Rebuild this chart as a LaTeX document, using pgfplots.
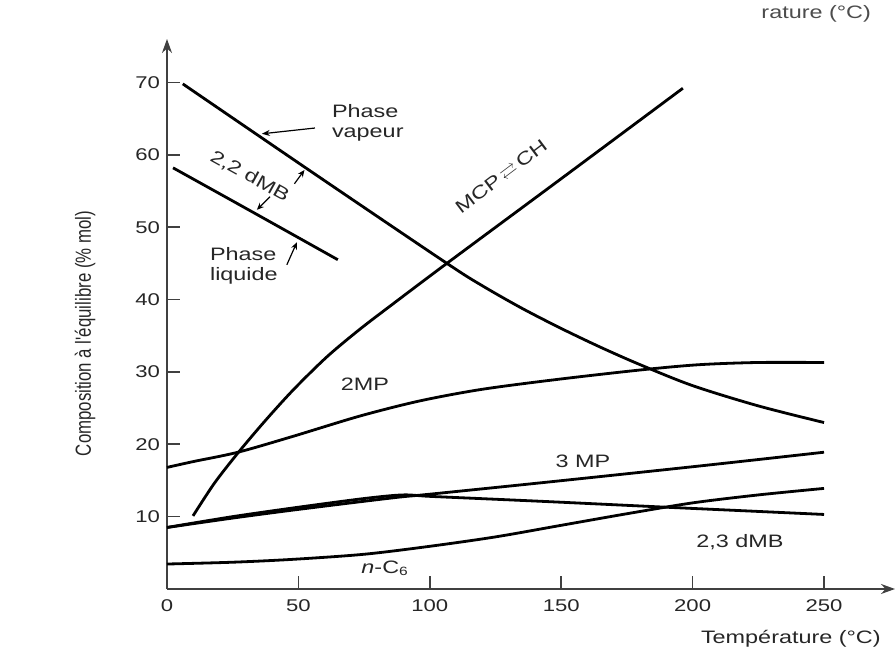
\documentclass[border=0pt]{standalone}
\usepackage{fontspec}
\setmainfont{Liberation Sans}[FakeStretch=1.3]
\newfontfamily\plainsans{Liberation Sans}
\usepackage{amssymb}
\usepackage{graphicx}
\usepackage{pgfplots}
\pgfplotsset{compat=1.18}
\usetikzlibrary{arrows.meta}

\pgfplotstableread{
x y
6.0 69.8
56 57.4
106.5 45.0
120 41.9
135 38.8
150 36.0
165 33.4
180 31.0
200 28.1
225 25.3
250 23.0
}\vapeur

\pgfplotstableread{
x y
2.3 58.2
33 52.0
65 45.5
}\liquide

\pgfplotstableread{
x y
9.9 10.1
18 14.6
27 18.8
37 23.1
48 27.5
60.9 32.1
73.4 35.9
86 39.4
106.5 45.0
150 56.7
196.3 69.2
}\mcp

\pgfplotstableread{
x y
0 16.8
9.9 17.6
27 18.9
48 21.1
73.4 23.9
96.3 26.0
120 27.6
149.4 29.0
181 30.3
202.7 31.0
225 31.3
250 31.3
}\twomp

\pgfplotstableread{
x y
0 8.5
25 9.8
50 11.0
86 12.6
100 13.1
145.6 14.8
202.7 17.0
250 18.9
}\threemp

\pgfplotstableread{
x y
0 8.5
25 10.0
50 11.3
75 12.5
89.7 13.0
100 12.8
125 12.4
149.4 12.0
190 11.3
220 10.8
250 10.3
}\dmbtt

\pgfplotstableread{
x y
0 3.45
25 3.7
48 4.1
75 4.8
100 5.9
125 7.2
150 8.8
175 10.4
200 11.9
225 13.0
250 13.9
}\nhex

\begin{document}
\begin{tikzpicture}
\begin{axis}[
  name=ax,
  scale only axis,
  width=364pt, height=275pt,
  xmin=0, xmax=277, ymin=0, ymax=76,
  axis lines=left,
  axis line style={line width=0.8pt, black!75, -{Stealth[length=7pt,width=5pt]}},
  xtick={0,50,...,250},
  ytick={10,20,...,70},
  tick align=inside,
  major tick length=6.5pt,
  tick style={line width=0.8pt, black!75},
  /pgf/number format/assume math mode=true,
  ticklabel style={font=\fontsize{8.5}{10}\selectfont, text=black!85},
  xticklabel style={yshift=-2pt},
  clip=false,
  cycle list={{black,solid}},
  every axis plot/.append style={line width=1.4pt, black, solid, smooth, no marks},
]
\addplot table {\vapeur};
\addplot table {\liquide};
\addplot table {\mcp};
\addplot table {\twomp};
\addplot table {\threemp};
\addplot table {\dmbtt};
\addplot table {\nhex};

\begin{scope}[every node/.style={font=\fontsize{9}{10}\selectfont, text=black!85}]
\node[anchor=west, align=left] at (axis cs:60.1,64.4) {Phase\\vapeur};
\node[anchor=west, align=left] at (axis cs:13.7,44.6) {Phase\\liquide};
\node[rotate=-29] at (axis cs:31.5,57.0) {2,2 dMB};
\node[rotate=37] at (axis cs:127.5,56.8) {MCP\,$\rightleftarrows$\,CH};
\node at (axis cs:75.3,28.3) {2MP};
\node at (axis cs:158.3,17.6) {3 MP};
\node at (axis cs:218,6.5) {2,3 dMB};
\node at (axis cs:83,2.9) {\textit{n}-C\textsubscript{6}};
\node[anchor=base west] at (axis cs:200.5,-7.5) {Température (°C)};
\node[rotate=90] at (axis cs:-31.2,35.3) {\scalebox{1}[1.3]{\plainsans\fontsize{8.4}{10}\selectfont Composition à l'équilibre (\% mol)}};
\end{scope}

\draw[line width=0.6pt, -{Stealth[length=4pt,width=3pt]}] (axis cs:56.3,63.7) -- (axis cs:36.1,62.9);
\draw[line width=0.6pt, -{Stealth[length=3.5pt,width=3pt]}] (axis cs:48.5,56.0) -- (axis cs:52.3,57.9);
\draw[line width=0.6pt, -{Stealth[length=3.5pt,width=3pt]}] (axis cs:39.2,54.2) -- (axis cs:34.2,52.4);
\draw[line width=0.6pt, -{Stealth[length=3.5pt,width=3pt]}] (axis cs:45.6,44.8) -- (axis cs:49.4,47.9);
\end{axis}
\node[anchor=base east, font=\fontsize{9}{10}\selectfont, text=black!70] at ([xshift=355.5pt,yshift=285pt]ax.south west) {rature (°C)};
\pgfresetboundingbox
\path[use as bounding box] ([xshift=-83.5pt,yshift=-31.5pt]ax.south west) rectangle ([xshift=364.5pt,yshift=294.5pt]ax.south west);
\end{tikzpicture}
\end{document}
